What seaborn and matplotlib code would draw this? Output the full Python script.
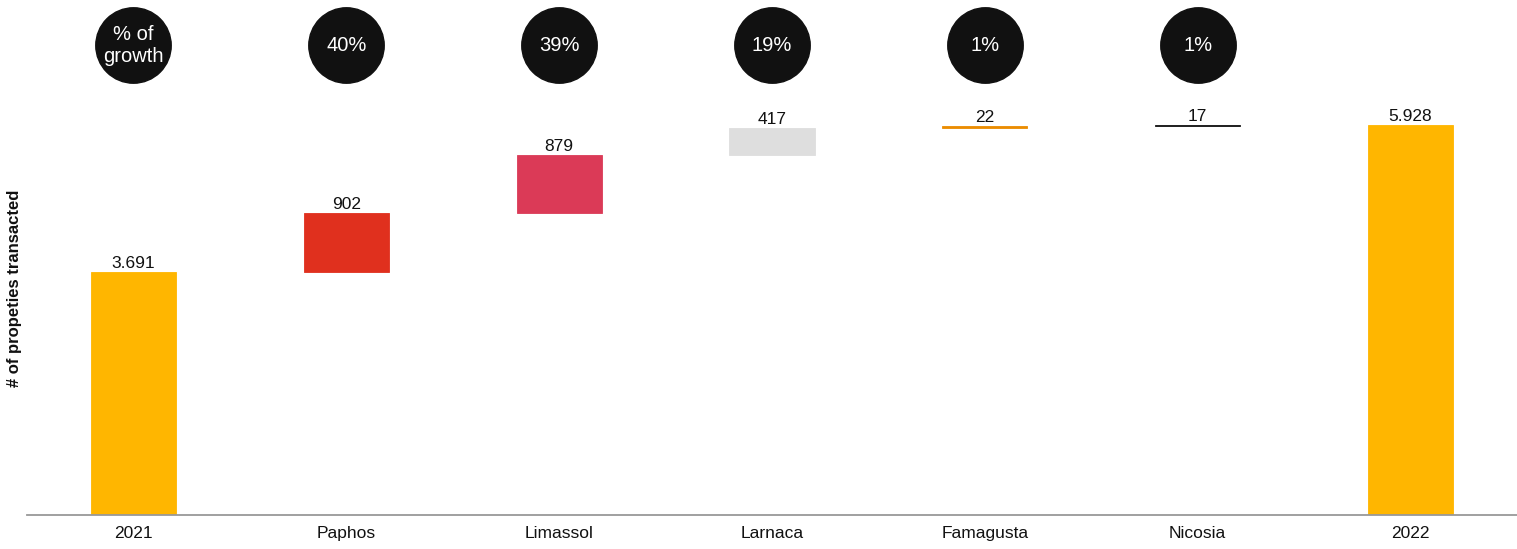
import pandas as pd
import matplotlib.pyplot as plt
import seaborn as sns

# waterfall data: number of properties transacted
categories = ['2021', 'Paphos', 'Limassol', 'Larnaca', 'Famagusta', 'Nicosia', '2022']
values = [3691, 902, 879, 417, 22, 17, 5928]
value_labels = ['3.691', '902', '879', '417', '22', '17', '5.928']
growth_labels = ['% of\ngrowth', '40%', '39%', '19%', '1%', '1%', '']
colors = ['#FFB600', '#E0301E', '#DB3A57', '#DEDEDE', '#EB8C00', '#111111', '#FFB600']

# bottoms of the floating bars
bottoms = []
running = 0
for i, v in enumerate(values):
    if i == 0 or i == len(values) - 1:
        bottoms.append(0)
    else:
        bottoms.append(running)
    running = v if i == 0 else running + v

df = pd.DataFrame({'category': categories, 'value': values, 'bottom': bottoms})

sns.set_style('white')
plt.rcParams['font.family'] = ['Liberation Sans', 'DejaVu Sans']

fig = plt.figure(figsize=(15.17, 5.49), dpi=100)
ax = fig.add_axes([27 / 1517, 34 / 549, 1490 / 1517, 515 / 549])

# one call per bar so each gets its own floating bottom
for i in range(len(df)):
    sns.barplot(data=df.iloc[[i]], x='category', y='value', order=categories,
                color=colors[i], width=0.4, bottom=bottoms[i], saturation=1,
                edgecolor=colors[i], linewidth=0.6, ax=ax)

top = 7827
ax.set_xlim(-0.5, 6.5)
ax.set_ylim(0, top)

# value labels above each bar
for i, (v, b) in enumerate(zip(values, bottoms)):
    ax.text(i, b + v + 15, value_labels[i], ha='center', va='bottom',
            fontsize=12.5, color='#111111')

# growth circles along the top
circle_y = 7143
idx = [i for i, g in enumerate(growth_labels) if g]
ax.scatter(idx, [circle_y] * len(idx), s=2950, color='#111111', zorder=3, clip_on=False)
for i in idx:
    ax.text(i, circle_y, growth_labels[i], ha='center', va='center', color='white',
            fontsize=14.5, linespacing=1.2, zorder=4)

ax.set_xlabel('')
ax.set_ylabel('')
ax.set_yticks([])
ax.tick_params(axis='x', length=0, labelsize=12.5, pad=8, colors='#111111')
for side in ['left', 'right', 'top']:
    ax.spines[side].set_visible(False)
ax.spines['bottom'].set_color('#999999')
ax.spines['bottom'].set_linewidth(1.3)

fig.text(15 / 1517, 1 - 288 / 549, '# of propeties transacted', rotation=90,
         ha='center', va='center', fontsize=12, fontweight='bold', color='#111111')

fig.savefig('out.png', dpi=100)
